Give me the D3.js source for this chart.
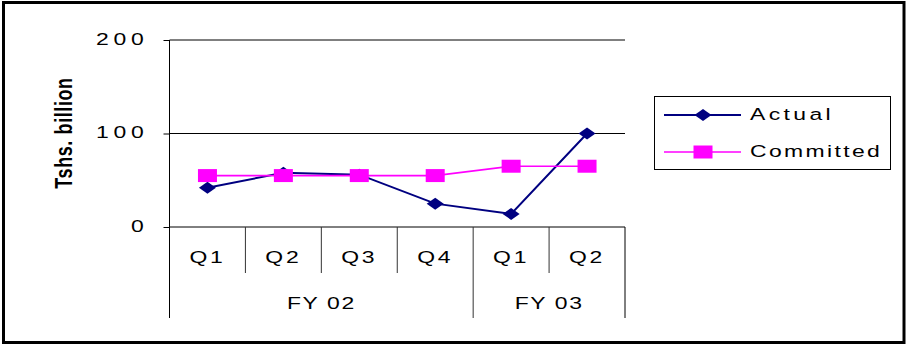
<!DOCTYPE html>
<html>
<head>
<meta charset="utf-8">
<script src="https://cdn.jsdelivr.net/npm/d3@7"></script>
<style>
  html, body { margin: 0; padding: 0; background: #fff; }
  svg { display: block; }
  text { font-family: "Liberation Sans", Arial, sans-serif; fill: #000; }
</style>
</head>
<body>
<svg id="chart" width="907" height="345"></svg>
<script>
// Quarterly figures, Tshs. billion
const quarters = ["Q1", "Q2", "Q3", "Q4", "Q1", "Q2"];
const yearLabels = ["FY 02", "FY 03"];
const yearSpans = [4, 2];
const actual = [42, 58, 56, 25, 14, 100];
const committed = [55, 55, 55, 55, 65, 65];
const yTicks = [0, 100, 200];
const seriesNames = ["Actual", "Committed"];

const SX = 1.35; // horizontal stretch applied to all lettering
const svg = d3.select("#chart");

// outer frame
svg.append("rect")
  .attr("x", 3.5).attr("y", 2.5)
  .attr("width", 900.5).attr("height", 340)
  .attr("fill", "none").attr("stroke", "#000").attr("stroke-width", 3);

const plotLeft = 169.5, plotRight = 625, plotTop = 40, zeroY = 227;
const qBottom = 273, yBottom = 318;

const x = d3.scaleBand().domain(d3.range(quarters.length)).range([plotLeft, plotRight]).padding(0);
const y = d3.scaleLinear().domain([0, 200]).range([zeroY, plotTop]);

function stretchText(g, px, py, str, opts) {
  opts = opts || {};
  return g.append("text")
    .attr("transform", `translate(${px},${py}) scale(${SX},1)${opts.rotate ? " rotate(" + opts.rotate + ")" : ""}`)
    .attr("text-anchor", opts.anchor || "start")
    .style("font-size", (opts.size || 16) + "px")
    .style("font-weight", opts.weight || "normal")
    .style("letter-spacing", (opts.ls != null ? opts.ls : 1.2) + "px")
    .text(str);
}

// horizontal gridlines
svg.append("g").selectAll("line").data(yTicks).join("line")
  .attr("x1", plotLeft).attr("x2", plotRight)
  .attr("y1", d => y(d)).attr("y2", d => y(d))
  .attr("stroke", "#000").attr("stroke-width", 1);

// value axis
const yAxis = svg.append("g")
  .attr("transform", `translate(${plotLeft},0)`)
  .call(d3.axisLeft(y).tickValues(yTicks).tickSize(6).tickSizeOuter(0));
yAxis.select(".domain").remove();
yAxis.selectAll(".tick line").attr("stroke", "#000");
yAxis.selectAll(".tick text")
  .attr("x", null).attr("dy", null)
  .attr("transform", `translate(-21,4) scale(${SX},1)`)
  .attr("text-anchor", "end")
  .style("font-family", '"Liberation Sans", Arial, sans-serif')
  .style("font-size", "17px")
  .style("letter-spacing", "3.5px")
  .attr("fill", "#000");

// left axis line running through both category rows
svg.append("line")
  .attr("x1", plotLeft).attr("x2", plotLeft).attr("y1", plotTop).attr("y2", yBottom)
  .attr("stroke", "#000").attr("stroke-width", 1);

// category axis: quarter separators and labels
const xAxis = svg.append("g")
  .attr("transform", `translate(0,${zeroY})`)
  .call(d3.axisBottom(x).tickSize(0).tickFormat(i => quarters[i]));
xAxis.select(".domain").remove();
xAxis.selectAll(".tick text")
  .attr("y", null).attr("dy", null)
  .attr("transform", `translate(0,36) scale(${SX},1)`)
  .style("font-family", '"Liberation Sans", Arial, sans-serif')
  .style("font-size", "17px")
  .style("letter-spacing", "2px")
  .attr("fill", "#000");

const seps = d3.range(1, quarters.length);
const yearBreaks = Array.from(d3.cumsum(yearSpans));
svg.append("g").selectAll("line").data(seps).join("line")
  .attr("x1", i => x(i)).attr("x2", i => x(i))
  .attr("y1", zeroY)
  .attr("y2", i => yearBreaks.includes(i) ? yBottom : qBottom)
  .attr("stroke", "#333").attr("stroke-width", 1);
svg.append("line")
  .attr("x1", plotRight).attr("x2", plotRight).attr("y1", zeroY).attr("y2", yBottom)
  .attr("stroke", "#000").attr("stroke-width", 1);

// fiscal year labels
const yearStarts = [0].concat(yearBreaks.slice(0, -1));
yearLabels.forEach((lab, k) => {
  const x0 = x(yearStarts[k]);
  const x1 = x(yearStarts[k] + yearSpans[k] - 1) + x.bandwidth();
  stretchText(svg, (x0 + x1) / 2, 309, lab, { anchor: "middle", size: 17, ls: 1.2 });
});

// axis title
stretchText(svg, 71.5, 133, "Tshs. billion", { anchor: "middle", size: 18, weight: "bold", ls: 0.6, rotate: -90 });

// series
const cx = i => x(i) + x.bandwidth() / 2;
const line = d3.line().x((d, i) => cx(i)).y(d => y(d));
const navy = "#000080", magenta = "#FF00FF";

const diamond = (w, h) => `M0,${-h / 2}L${w / 2},0L0,${h / 2}L${-w / 2},0Z`;
const square = (w, h) => `M${-w / 2},${-h / 2}h${w}v${h}h${-w}Z`;

svg.append("path").datum(actual)
  .attr("d", line).attr("fill", "none").attr("stroke", navy).attr("stroke-width", 2);
svg.append("g").selectAll("path").data(actual).join("path")
  .attr("transform", (d, i) => `translate(${cx(i)},${y(d)})`)
  .attr("d", diamond(17, 12)).attr("fill", navy);

svg.append("path").datum(committed)
  .attr("d", line).attr("fill", "none").attr("stroke", magenta).attr("stroke-width", 1.6);
svg.append("g").selectAll("path").data(committed).join("path")
  .attr("transform", (d, i) => `translate(${cx(i)},${y(d)})`)
  .attr("d", square(19, 13)).attr("fill", magenta);

// legend
const lg = svg.append("g");
lg.append("rect").attr("x", 654.5).attr("y", 96.5).attr("width", 236).attr("height", 73)
  .attr("fill", "#fff").attr("stroke", "#000").attr("stroke-width", 1);
const legendRows = [
  { name: seriesNames[0], color: navy, shape: diamond(17, 12), w: 2, y: 115, ls: 2.5 },
  { name: seriesNames[1], color: magenta, shape: square(19, 13), w: 1.6, y: 152, ls: 1.75 }
];
legendRows.forEach(r => {
  lg.append("line").attr("x1", 664).attr("x2", 741).attr("y1", r.y).attr("y2", r.y)
    .attr("stroke", r.color).attr("stroke-width", r.w);
  lg.append("path").attr("transform", `translate(703,${r.y})`).attr("d", r.shape).attr("fill", r.color);
  stretchText(lg, 750, r.y + 5, r.name, { size: 17, ls: r.ls });
});
</script>
</body>
</html>
